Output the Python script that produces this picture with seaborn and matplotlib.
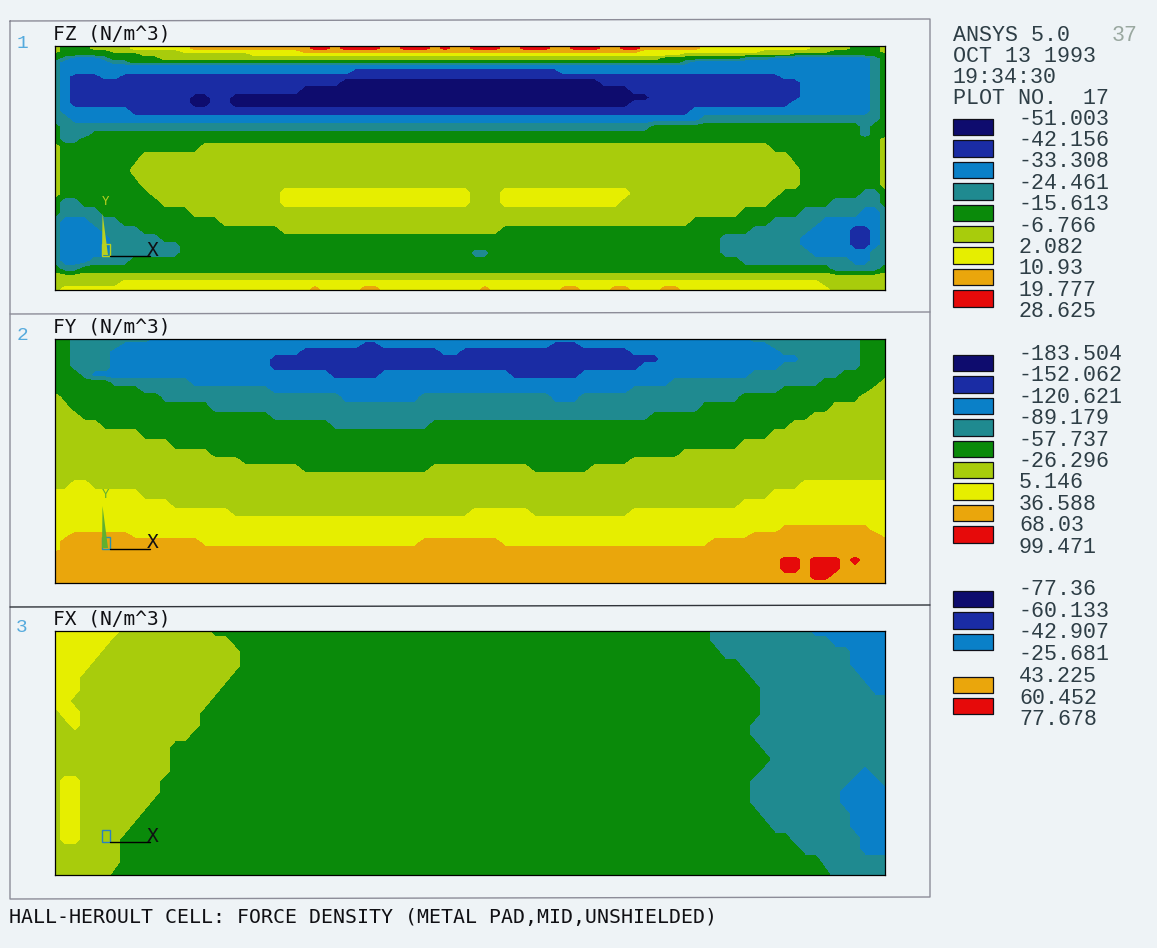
import re
import numpy as np
import matplotlib
matplotlib.use("Agg")
import matplotlib.pyplot as plt
from matplotlib.colors import ListedColormap
from matplotlib.patches import Rectangle
import seaborn as sns

# ---------- data ----------
BAND_ORDER = "NDBTGLYOR"
BAND_COLORS = ["#0e0c6e", "#1a2ca4", "#0a80c8", "#1f8a90", "#0a8a0a",
               "#a8cc0c", "#e6ee00", "#eaa60c", "#e60a0a"]

FZ_LEVELS = [-51.003, -42.156, -33.308, -24.461, -15.613, -6.766, 2.082, 10.93, 19.777, 28.625]
FY_LEVELS = [-183.504, -152.062, -120.621, -89.179, -57.737, -26.296, 5.146, 36.588, 68.03, 99.471]
FX_LEVELS = [-77.36, -60.133, -42.907, -25.681, -8.455, 8.771, 25.998, 43.225, 60.452, 77.678]
FX_SHOWN = [0, 1, 2, 3, 7, 8, 9]   # levels printed in the third key

# depth of each sampled row under the top of the panel, and the band runs along it
FZ_DEPTH = [0, 2, 5, 8, 12, 16, 20, 26, 30, 36, 44, 52, 58, 66, 74, 82, 90, 94, 102, 112, 125, 138,
            148, 156, 166, 176, 184, 192, 200, 208, 216, 224, 232, 238, 245]
FZ_ROWS = [
    "L1 G3 L4 Y6 O12 R2 O1 R4 O2 R3 O1 R1 O2 R3 O2 R3 O2 R3 O2 R2 O6 Y11 L4 G3 L1",
    "L1 G3 L4 Y6 O12 R2 O1 R4 O2 R3 O1 R1 O2 R3 O2 R3 O2 R3 O2 R2 O6 Y11 L4 G3 L1",
    "L1 G5 L7 Y12 O34 Y12 L7 G5 L1",
    "G9 L11 Y43 L11 G10",
    "G1 T1 B3 T1 G5 L50 G8 T3 B10 T1 G1",
    "T1 B5 T2 G55 T1 B18 T1 G1",
    "T1 B81 T1 G1",
    "T1 B29 D21 B31 T1 G1",
    "T1 B1 D3 B2 D66 B9 T1 G1",
    "T1 B1 D27 N26 D20 B7 T1 G1",
    "T1 B1 D23 N33 D17 B7 T1 G1",
    "T1 B1 D12 N2 D2 N42 D15 B7 T1 G1",
    "T1 B1 D12 N2 D2 N40 D16 B8 T1 G1",
    "T1 B7 D56 B18 T1 G1",
    "T2 B63 T18 G1",
    "G1 T59 G21 T1 G2",
    "G1 T3 G77 T1 G2",
    "G1 T2 G80 L1",
    "L1 G14 L57 G11 L1",
    "L1 G8 L65 G9 L1",
    "L1 G7 L67 G8 L1",
    "L1 G8 L66 G8 L1",
    "L1 G9 L13 Y19 L3 Y13 L15 G8 T2 G1",
    "G1 T2 G8 L12 Y19 L3 Y12 L15 G6 T5 G1",
    "G1 T4 G9 L55 G6 T6 B2 T1",
    "T1 B3 T3 G10 L47 G8 T5 B6 T1",
    "T1 B4 T4 G14 L22 G25 T6 B4 D2 B1 T1",
    "T1 B5 T5 G56 T8 B5 D2 B1 T1",
    "T1 B5 T7 G54 T8 B5 D2 B1 T1",
    "T1 B5 T7 G29 T2 G23 T9 B6 T2",
    "T1 B3 T4 G61 T11 B2 T2",
    "G1 T2 G75 T5 G1",
    "L84",
    "L7 Y70 L7",
    "L1 Y25 O1 Y4 O2 Y10 O1 Y7 O2 Y3 O2 Y3 O2 Y15 L6",
]

FY_DEPTH = [0, 6, 12, 20, 28, 36, 44, 52, 58, 70, 78, 86, 96, 106, 116, 122, 130, 138, 146, 156,
            166, 174, 182, 192, 197, 204, 212, 216, 222, 230, 238, 245]
FY_ROWS = [
    "G2 T8 B60 T11 G3",
    "G2 T5 B24 D2 B17 D3 B19 T9 G3",
    "G2 T4 B19 D14 B2 D17 B15 T8 G3",
    "G2 T4 B16 D39 B14 T6 G3",
    "G2 T4 B16 D37 B14 T8 G3",
    "G3 T1 B24 D5 B13 D7 B17 T9 G5",
    "G6 T8 B48 T15 G6 L1",
    "G9 T13 B36 T15 G9 L2",
    "L1 G10 T18 B8 T13 B3 T16 G12 L3",
    "L2 G14 T49 G13 L6",
    "L3 G19 T38 G16 L8",
    "L5 G23 T10 G36 L10",
    "L9 G63 L12",
    "L12 G57 L15",
    "L16 G47 L21",
    "L19 G39 L26",
    "L25 G13 L10 G6 L30",
    "L84",
    "L2 Y2 L71 Y9",
    "Y9 L63 Y12",
    "Y12 L57 Y15",
    "Y18 L24 Y6 L10 Y26",
    "Y84",
    "Y73 O9 Y2",
    "Y2 O6 Y62 O13 Y1",
    "Y1 O14 Y22 O8 Y21 O18",
    "Y1 O83",
    "O84",
    "O73 R2 O1 R3 O1 R1 O3",
    "O73 R2 O1 R3 O5",
    "O76 R2 O6",
    "O84",
]

FX_DEPTH = [0, 10, 22, 34, 46, 58, 70, 82, 94, 104, 116, 128, 140, 150, 160, 172, 184, 196, 208,
            218, 230, 244]
FX_ROWS = [
    "Y7 L9 G50 T10 B8",
    "Y6 L12 G48 T12 B6",
    "Y5 L14 G48 T13 B4",
    "Y4 L15 G50 T11 B4",
    "Y3 L15 G52 T11 B3",
    "Y3 L14 G54 T11 B2",
    "Y2 L14 G55 T13",
    "L1 Y2 L12 G56 T13",
    "L2 Y1 L12 G55 T14",
    "L14 G56 T14",
    "L12 G59 T13",
    "L12 G60 T12",
    "L12 G59 T10 B1 T2",
    "L1 Y2 L8 G59 T10 B3 T1",
    "L1 Y2 L8 G59 T9 B5",
    "L1 Y2 L7 G60 T9 B5",
    "L1 Y2 L6 G62 T9 B4",
    "L1 Y2 L5 G64 T8 B4",
    "L1 Y2 L4 G67 T7 B3",
    "L7 G68 T6 B3",
    "L7 G70 T7",
    "L6 G72 T6",
]

TITLES = ["FZ (N/m^3)", "FY (N/m^3)", "FX (N/m^3)"]
PANEL_NUMBERS = ["1", "2", "3"]
HEADER = ["ANSYS 5.0", "OCT 13 1993", "19:34:30", "PLOT NO.  17"]
FOOTER = "HALL-HEROULT CELL: FORCE DENSITY (METAL PAD,MID,UNSHIELDED)"

# ---------- helpers ----------
BG = "#eef3f6"
W, H = 1157, 948
N_COLS = 84

sns.set_theme(style="white")
plt.rcParams["font.family"] = ["Liberation Mono", "DejaVu Sans Mono"]


def band_values(rows, levels):
    mids = [(a + b) / 2 for a, b in zip(levels[:-1], levels[1:])]
    out = []
    for k, row in enumerate(rows):
        vals = []
        for letter, count in re.findall(r"([A-Z])(\d+)", row):
            vals += [mids[BAND_ORDER.index(letter)]] * int(count)
        if len(vals) != N_COLS:
            print("row", k, "has", len(vals))
        vals = (vals + [vals[-1]] * N_COLS)[:N_COLS]
        out.append(vals)
    return np.array(out)


def px_axes(fig, x0, y0, x1, y1, **kw):
    return fig.add_axes([x0 / W, 1 - y1 / H, (x1 - x0) / W, (y1 - y0) / H], **kw)


fig = plt.figure(figsize=(W / 100, H / 100), dpi=100, facecolor=BG)

# contour panels
PANEL_X = (55, 885)
PANELS = [
    (46, 290, FZ_DEPTH, FZ_ROWS, FZ_LEVELS),
    (339, 583, FY_DEPTH, FY_ROWS, FY_LEVELS),
    (631, 875, FX_DEPTH, FX_ROWS, FX_LEVELS),
]
xs = PANEL_X[0] + 10 * np.arange(N_COLS)
for top, bottom, depth, rows, levels in PANELS:
    ax = px_axes(fig, PANEL_X[0], top, PANEL_X[1], bottom)
    z = band_values(rows, levels)
    ax.contourf(xs, depth, z, levels=levels, colors=BAND_COLORS, antialiased=False)
    ax.set_xlim(*PANEL_X)
    ax.set_ylim(max(depth), 0)
    ax.set_xticks([])
    ax.set_yticks([])
    for s in ax.spines.values():
        s.set_color("black")
        s.set_linewidth(0.9)


# colour keys, one heatmap per panel
def colour_key(top, bands):
    pitch, gap, sw_w = 21.4, 5.0, 40.0
    data = np.array([[np.nan if b is None else b] for b in bands], dtype=float)
    ax = px_axes(fig, 953 - gap / 2, top - gap / 2, 993 + gap / 2, top - gap / 2 + pitch * len(bands))
    sns.heatmap(data, ax=ax, cmap=ListedColormap(BAND_COLORS), vmin=-0.5, vmax=8.5, cbar=False,
                xticklabels=False, yticklabels=False, linewidths=gap * 0.72, linecolor=BG)
    ax.set_facecolor(BG)
    ax.patch.set_alpha(0)
    fx, fy = (gap / 2) / (sw_w + gap), (gap / 2) / pitch
    for i, b in enumerate(bands):
        if b is not None:
            ax.add_patch(Rectangle((fx, i + fy), 1 - 2 * fx, 1 - 2 * fy, fill=False, ec="#101018", lw=0.9, clip_on=False))
    for s in ax.spines.values():
        s.set_visible(False)


colour_key(119, list(range(9)))
colour_key(355, list(range(9)))
colour_key(591, [0, 1, 2, None, 7, 8])

# overlay in pixel coordinates for frame, text and triads
ov = fig.add_axes([0, 0, 1, 1], zorder=10)
ov.set_xlim(0, W)
ov.set_ylim(H, 0)
ov.axis("off")
ov.patch.set_alpha(0)

FRAME = "#8c8c98"
ov.plot([10, 930, 930, 10, 10], [21, 19, 897, 899, 21], color=FRAME, lw=1.0)
ov.plot([10, 930], [314, 312], color=FRAME, lw=1.0)
ov.plot([10, 930], [607, 605], color="#30343a", lw=1.0)

INK = "#2e3e46"
for (top, _, _, _, _), title, num in zip(PANELS, TITLES, PANEL_NUMBERS):
    ov.text(53, top - 12, title, family="DejaVu Sans Mono", fontsize=14, color="#101014", va="center", ha="left")
    ov.text(22, top - 3, num, fontsize=14, color="#55aadd", va="center", ha="center")

for i, line in enumerate(HEADER):
    ov.text(953, 35 + 21 * i, line, fontsize=15.6, color=INK, va="center", ha="left")
ov.text(1112, 35, "37", fontsize=15.6, color="#9aa8a0", va="center", ha="left")


def key_labels(top, levels, pitch=21.4):
    for i, v in enumerate(levels):
        ov.text(1019, top + pitch * i, f"{v:g}", fontsize=15.6, color=INK, va="center", ha="left")


key_labels(119, FZ_LEVELS)
key_labels(354.5, FY_LEVELS)
key_labels(589.5, [FX_LEVELS[i] for i in FX_SHOWN], pitch=21.7)

ov.text(9, 917, FOOTER, family="DejaVu Sans Mono", fontsize=14.35, color="#101014", va="center", ha="left")

# coordinate triads
for y0, xlab, box_col, spike in [(256, 250, "#b8d020", "#b8d020"), (549, 543, "#2a90b0", "#60b030"), (842, 837, "#2a80c0", None)]:
    ov.plot([110, 150], [y0, y0], color="black", lw=1.0)
    ov.text(153, xlab, "X", family="DejaVu Sans Mono", fontsize=14, color="#101014", va="center", ha="center")
    ov.add_patch(Rectangle((102, y0 - 12), 8, 12, fill=False, ec=box_col, lw=1.0))
    if spike:
        ov.fill([102, 108, 102.5], [y0 - 1, y0 - 1, y0 - 43], color=spike, lw=0)
        ov.text(106, y0 - 55, "Y", family="DejaVu Sans Mono", fontsize=9, color=spike, va="center", ha="center")

fig.savefig("out.png", dpi=100, facecolor=BG)
